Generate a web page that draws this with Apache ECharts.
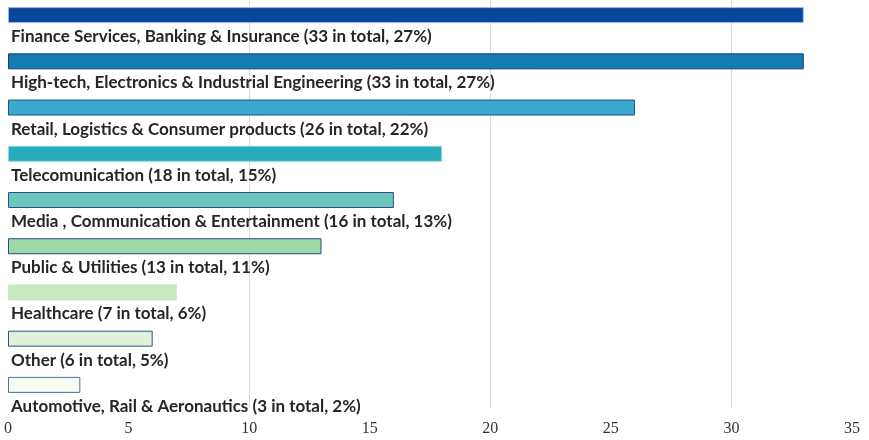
<!DOCTYPE html>
<html>
<head>
<meta charset="utf-8">
<script src="https://cdn.jsdelivr.net/npm/echarts@6/dist/echarts.min.js"></script>
<style>
  html, body { margin: 0; padding: 0; background: #fff; }
  #chart { width: 869px; height: 440px; }
</style>
</head>
<body>
<div id="chart"></div>
<script>
// Sector breakdown: number of entries per industry sector
const sectors = [
  'Finance Services, Banking & Insurance',
  'High-tech, Electronics & Industrial Engineering',
  'Retail, Logistics & Consumer products',
  'Telecomunication',
  'Media , Communication & Entertainment',
  'Public & Utilities',
  'Healthcare',
  'Other',
  'Automotive, Rail & Aeronautics'
];
const counts = [33, 33, 26, 18, 16, 13, 7, 6, 3];
const shares = [27, 27, 22, 15, 13, 11, 6, 5, 2];
const xTicks = [0, 5, 10, 15, 20, 25, 30, 35];

const fills = ['#07479b', '#127db4', '#39a9d0', '#28abbd', '#6bc6bc', '#9fd9a9', '#c8eac0', '#dff2d9', '#f5fbef'];
const edges = ['#9db8e0', '#1b3a78', '#2a4d86', '#8fd6e0', '#2f4f8c', '#2a4a86', '#c8eac0', '#2f4f8c', '#4a6fa9'];

const chart = echarts.init(document.getElementById('chart'));
chart.setOption({
  animation: false,
  grid: [
    { left: 8, right: 17, top: 0, height: 416, containLabel: false },
    // background grid carrying only the vertical guide lines
    { left: 8, right: 17, top: 0, height: 408, containLabel: false, z: 0 }
  ],
  xAxis: [
    {
      type: 'value', gridIndex: 0,
      min: xTicks[0], max: xTicks[xTicks.length - 1], interval: 5,
      axisLine: { show: false }, axisTick: { show: false },
      splitLine: { show: false },
      axisLabel: {
        fontFamily: 'Liberation Serif', fontSize: 16, color: '#333', margin: 5
      }
    },
    {
      type: 'value', gridIndex: 1, min: 0, max: 35, interval: 10,
      axisLine: { show: false }, axisTick: { show: false }, axisLabel: { show: false },
      splitLine: {
        show: true, showMinLine: false, showMaxLine: false,
        lineStyle: { color: '#dcdcdc', width: 1 }
      }
    }
  ],
  yAxis: [
    {
      type: 'category', gridIndex: 0, inverse: true, data: sectors,
      axisLine: { show: false }, axisTick: { show: false }, axisLabel: { show: false },
      splitLine: { show: false }
    },
    {
      type: 'value', gridIndex: 1, show: false, min: 0, max: 1,
      splitLine: { show: false }
    }
  ],
  series: [
    {
      type: 'bar',
      xAxisIndex: 0, yAxisIndex: 0,
      barWidth: 16,
      barGap: 0,
      z: 3,
      data: counts.map((v, i) => ({
        value: v,
        itemStyle: { color: fills[i], borderColor: edges[i], borderWidth: 1 }
      })),
      label: {
        show: true,
        position: [3, 21],
        align: 'left',
        verticalAlign: 'top',
        fontFamily: 'Lato',
        fontWeight: 'bold',
        fontSize: 17,
        color: '#262626',
        formatter: p => `${sectors[p.dataIndex]} (${counts[p.dataIndex]} in total, ${shares[p.dataIndex]}%)`
      }
    },
    {
      // empty companion slot: keeps each bar in the upper half of its row, leaving room for the caption
      type: 'bar',
      xAxisIndex: 0, yAxisIndex: 0,
      barWidth: 16,
      barGap: 0,
      silent: true,
      data: counts.map(() => '-')
    }
  ]
});
</script>
</body>
</html>
